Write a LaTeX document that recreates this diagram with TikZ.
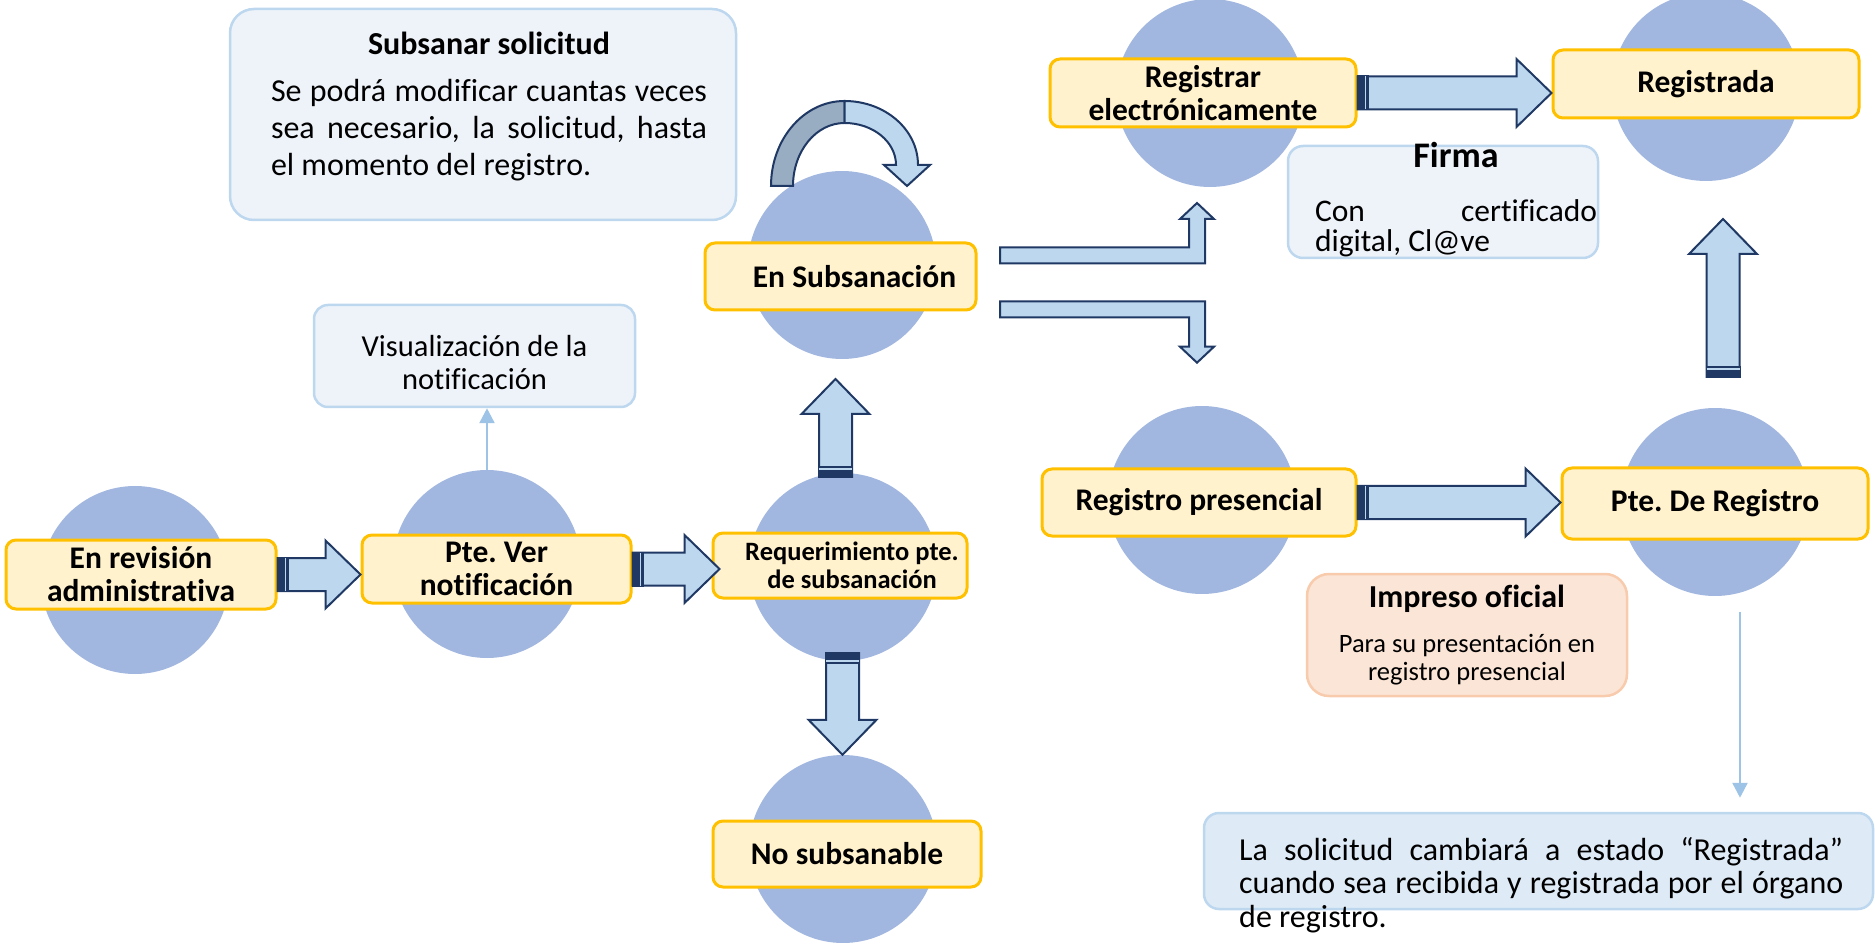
\documentclass[tikz,border=0pt]{standalone}
\usepackage{fontspec}
\setmainfont{Carlito}[Ligatures=NoCommon]
\usetikzlibrary{arrows.meta,calc}
\frenchspacing

\definecolor{circfill}{HTML}{A2B7DF}
\definecolor{boxfill}{HTML}{FFF2CC}
\definecolor{boxline}{HTML}{FFC000}
\definecolor{arrfill}{HTML}{BDD7EE}
\definecolor{arrline}{HTML}{1F3864}
\definecolor{notefill}{HTML}{EEF3FA}
\definecolor{noteline}{HTML}{BDD7EE}
\definecolor{pinkfill}{HTML}{FBE5D6}
\definecolor{pinkline}{HTML}{F8CBAD}
\definecolor{finalfill}{HTML}{DEEBF7}
\definecolor{thinarr}{HTML}{9DC3E6}
\definecolor{loopdark}{HTML}{98ACC2}

\newcommand{\boxfont}{\fontsize{31.5}{33}\selectfont\bfseries}
\newcommand{\smallboxfont}{\fontsize{26.5}{28}\selectfont\bfseries}
\newcommand{\notefont}{\fontsize{32}{37}\selectfont}

% sizes of the block arrows
\newcommand{\arrs}{16.5pt}
\newcommand{\arrh}{34pt}
\newcommand{\arrl}{35pt}
\newcommand{\bents}{8pt}
\newcommand{\benth}{17pt}
\newcommand{\bentl}{16pt}

\tikzset{
  state/.style={circle, fill=circfill, minimum size=188pt, inner sep=0pt},
  stbox/.style={draw=boxline, line width=3pt, fill=boxfill, rounded corners=10pt,
    minimum height=68pt, align=center, font=\boxfont, inner sep=0pt},
  note/.style={draw=noteline, line width=2.5pt, fill=notefill, rounded corners=24pt},
  notetext/.style={anchor=base, inner sep=0pt},
  blockarr/.style={fill=arrfill, draw=arrline, line width=2pt, line join=miter},
  tailbar/.style={fill=arrline},
  tailline/.style={draw=arrfill, line width=1.2pt},
  thin/.style={draw=thinarr, line width=2.5pt, -{Triangle[width=15pt,length=15pt]}}
}

% right block arrow with dark tail
\newcommand{\hblock}[2]{%
  \path[blockarr] let \p1=(#1), \p2=(#2) in
    (\x1,\y1+\arrs) -- (\x2-\arrl,\y1+\arrs) -- (\x2-\arrl,\y1+\arrh) -- (\x2,\y1)
    -- (\x2-\arrl,\y1-\arrh) -- (\x2-\arrl,\y1-\arrs) -- (\x1,\y1-\arrs) -- cycle;
  \path[tailbar] let \p1=(#1) in (\x1-1pt,\y1-\arrs-1pt) rectangle (\x1+11pt,\y1+\arrs+1pt);
  \path[tailline] let \p1=(#1) in (\x1+8pt,\y1-\arrs) -- (\x1+8pt,\y1+\arrs);
}
% vertical block arrow with dark tail
\newcommand{\vblock}[2]{%
  \path[blockarr] let \p1=(#1), \p2=(#2), \n1={(\y2-\y1)/abs(\y2-\y1)} in
    ({\x1+\arrs},\y1) -- ({\x1+\arrs},{\y2-(\n1)*\arrl}) -- ({\x1+\arrh},{\y2-(\n1)*\arrl}) -- (\x1,\y2)
    -- ({\x1-\arrh},{\y2-(\n1)*\arrl}) -- ({\x1-\arrs},{\y2-(\n1)*\arrl}) -- ({\x1-\arrs},\y1) -- cycle;
  \path[tailbar] let \p1=(#1), \p2=(#2), \n1={(\y2-\y1)/abs(\y2-\y1)} in
    ({\x1-\arrs-1pt},{\y1-(\n1)*1pt}) rectangle ({\x1+\arrs+1pt},{\y1+(\n1)*11pt});
  \path[tailline] let \p1=(#1), \p2=(#2), \n1={(\y2-\y1)/abs(\y2-\y1)} in
    ({\x1-\arrs},{\y1+(\n1)*8pt}) -- ({\x1+\arrs},{\y1+(\n1)*8pt});
}
% bent block arrow, right then up or down
\newcommand{\bentblock}[2]{%
  \path[blockarr] let \p1=(#1), \p2=(#2), \n1={(\y2-\y1)/abs(\y2-\y1)} in
    (\x1,{\y1+(\n1)*\bents}) -- ({\x2-\bents},{\y1+(\n1)*\bents}) -- ({\x2-\bents},{\y2-(\n1)*\bentl})
    -- ({\x2-\benth},{\y2-(\n1)*\bentl}) -- (\x2,\y2) -- ({\x2+\benth},{\y2-(\n1)*\bentl})
    -- ({\x2+\bents},{\y2-(\n1)*\bentl}) -- ({\x2+\bents},{\y1-(\n1)*\bents}) -- (\x1,{\y1-(\n1)*\bents}) -- cycle;
}

\begin{document}
\begin{tikzpicture}[x=1pt,y=-1pt]
\useasboundingbox (0,0) rectangle (1875,949);

% circles
\node[state] (cRev) at (135,580) {};
\node[state] (cVer) at (487,564) {};
\node[state] (cReq) at (843,567) {};
\node[state] (cSub) at (842,265) {};
\node[state] (cNo)  at (843,849) {};
\node[state] (cEle) at (1210,93) {};
\node[state] (cReg) at (1706,87) {};
\node[state] (cPre) at (1202,500) {};
\node[state] (cPte) at (1715,502) {};

% notes
\node[note, minimum width=506pt, minimum height=211pt] (nSub) at (483,114.5) {};
\node[notetext, text width=436pt, align=justify, font=\notefont] (tSub) at (489,55)
  {{\centering\bfseries Subsanar solicitud\par}\vspace{10pt}
   Se podrá modificar cuantas veces\linebreak sea necesario, la solicitud, hasta\linebreak el momento del registro.};
\node[note, rounded corners=14pt, minimum width=321pt, minimum height=102pt] (nVis) at (474.5,356) {};
\node[notetext, text width=321pt, align=flush center, font=\fontsize{30.5}{33}\selectfont] (tVis) at (474.5,357)
  {Visualización de la\\notificación};
\node[note, rounded corners=15pt, minimum width=310pt, minimum height=112pt] (nFirma) at (1443,202) {};
\node[notetext, text width=282pt, align=justify, font=\fontsize{31.5}{30}\selectfont] (tFirma) at (1456,168)
  {{\centering\fontsize{36}{30}\selectfont\bfseries Firma\par}\vspace{24pt}
   Con certificado\linebreak digital, Cl@ve};
\node[note, draw=pinkline, fill=pinkfill, rounded corners=22pt, minimum width=320pt, minimum height=122pt,
  text width=300pt, align=flush center] (nImp) at (1467,635)
  {{\fontsize{32}{37}\selectfont\bfseries Impreso oficial\par}\vspace{17pt}
   {\fontsize{26.5}{28}\selectfont Para su presentación en\\registro presencial\par}};
\node[note, fill=finalfill, rounded corners=15pt, minimum width=669pt, minimum height=96pt] (nFin) at (1538.5,861) {};
\node[notetext, anchor=base west, text width=604pt, align=justify, font=\fontsize{32}{33.5}\selectfont]
  (tFin) at (1239,860)
  {La solicitud cambiará a estado “Registrada”\linebreak cuando sea recibida y registrada por el órgano\linebreak de registro.};

% states
\node[stbox, minimum width=270pt, minimum height=69pt] (bRev) at (141,574.5) {En revisión\\administrativa};
\node[stbox, minimum width=269pt] (bVer) at (496.5,569) {Pte. Ver\\notificación};
\node[stbox, minimum width=254pt, minimum height=65pt, font=\smallboxfont] (bReq) at (840,565.5)
  {\hspace*{24pt}Requerimiento pte.\\\hspace*{24pt}de subsanación};
\node[stbox, minimum width=271pt, minimum height=67pt] (bSub) at (840.5,276.5) {\hspace*{28pt}En Subsanación};
\node[stbox, minimum width=268pt, minimum height=66pt] (bNo) at (847,854) {No subsanable};
\node[stbox, minimum width=306pt] (bEle) at (1203,93) {Registrar\\electrónicamente};
\node[stbox, minimum width=306pt] (bReg) at (1706,84) {Registrada};
\node[stbox, minimum width=314pt, minimum height=67pt] (bPre) at (1199,502.5) {Registro presencial};
\node[stbox, minimum width=306pt, minimum height=71pt] (bPte) at (1715,503.5) {Pte. De Registro};

% arrow ends
\coordinate (upTail) at (835.5,477);
\coordinate (upTip) at (835.5,379);
\coordinate (dnTail) at (842.5,653);
\coordinate (regTail) at (1723,377);
\coordinate (regTip) at (1723,219);
\coordinate (forkU) at (1000,255.5);
\coordinate (eleIn) at (1197,203);
\coordinate (forkD) at (1000,309.5);
\coordinate (preIn) at (1197,362.7);
\coordinate (loopC) at (844.5,186);
\coordinate (finOut) at (1740,612);

% block arrows
\hblock{bRev.east}{bVer.west}
\hblock{bVer.east}{$(bReq.west)+(8,0)$}
\hblock{bEle.east}{bReg.west}
\hblock{bPre.east}{bPte.west}
\vblock{upTail}{upTip}
\vblock{dnTail}{cNo.north}
\vblock{regTail}{regTip}
\bentblock{forkU}{eleIn}
\bentblock{forkD}{preIn}

% loop over En Subsanacion
\path[fill=loopdark, draw=arrline, line width=2pt] (loopC) ++(-73.5,0)
  arc[start angle=180, end angle=270, x radius=73.5, y radius=85] -- ++(0,22)
  arc[start angle=270, end angle=180, x radius=51.5, y radius=63] -- cycle;
\path[blockarr] (loopC) ++(0,-85)
  arc[start angle=270, end angle=360, x radius=73.5, y radius=64]
  -- ++(12,0) -- ++(-23,21) -- ++(-23,-21) -- ++(12,0)
  arc[start angle=0, end angle=-90, x radius=51.5, y radius=42] -- cycle;

% thin arrows
\draw[thin] (cVer.north) -- (cVer.north |- nVis.south);
\draw[thin, shorten >=14pt] (finOut) -- (finOut |- nFin.north);
\end{tikzpicture}
\end{document}
